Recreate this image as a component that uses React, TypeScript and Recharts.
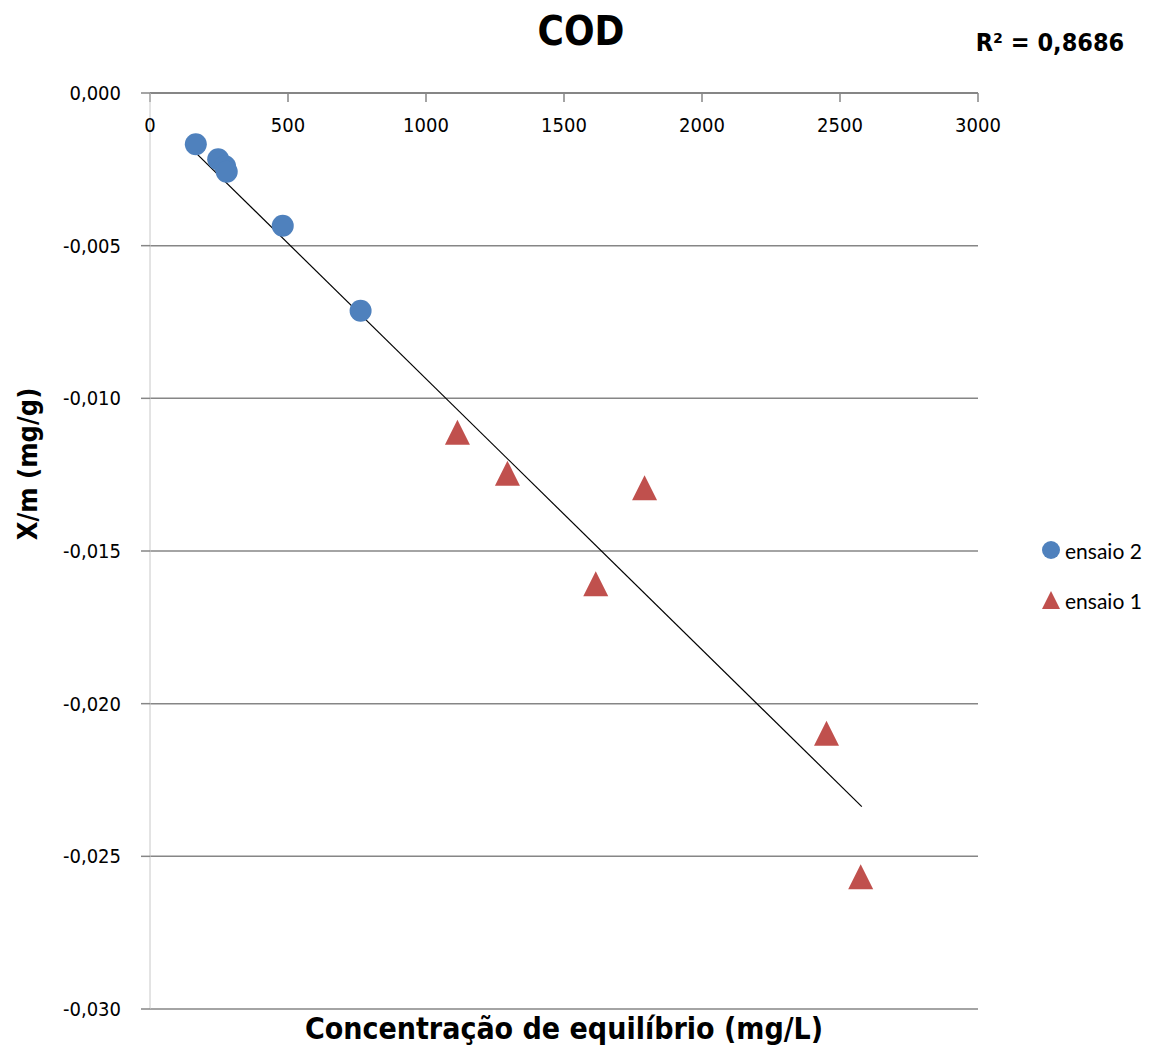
import React from 'react';
import {
  ScatterChart,
  Scatter,
  XAxis,
  YAxis,
  CartesianGrid,
  Legend,
} from 'recharts';

// ensaio 2 (blue circles)
const ensaio2X = [166, 247, 272, 278, 481, 763];
const ensaio2Y = [-0.00168, -0.00217, -0.0024, -0.00258, -0.00435, -0.00713];

// ensaio 1 (red triangles)
const ensaio1X = [1114, 1295, 1615, 1792, 2451, 2575];
const ensaio1Y = [-0.01111, -0.01245, -0.01607, -0.01293, -0.02097, -0.02567];

// linear trendline ends, as drawn
const trendX = [166, 2579];
const trendY = [-0.00196, -0.02337];

const xTicks = [0, 500, 1000, 1500, 2000, 2500, 3000];
const yTicks = [0, -0.005, -0.01, -0.015, -0.02, -0.025, -0.03];

const ensaio2 = ensaio2X.map((x, i) => ({ x, y: ensaio2Y[i] }));
const ensaio1 = ensaio1X.map((x, i) => ({ x, y: ensaio1Y[i] }));
const trend = trendX.map((x, i) => ({ x, y: trendY[i] }));

const BLUE = '#4f81bd';
const RED = '#c0504d';
const narrow = '"Liberation Sans Narrow", "DejaVu Sans Condensed", "Liberation Sans", sans-serif';

const Circle = (props: any) => <circle cx={props.cx} cy={props.cy} r={11} fill={BLUE} />;

const Triangle = (props: any) => {
  const { cx, cy } = props;
  const h = 12.5;
  return <polygon points={`${cx},${cy - h} ${cx + h},${cy + h} ${cx - h},${cy + h}`} fill={RED} />;
};

const NoDot = () => <g />;

const LegendBox = () => (
  <div style={{ width: 122, fontFamily: 'Lato, "Open Sans", sans-serif', fontSize: 21, color: '#000' }}>
    <div style={{ display: 'flex', alignItems: 'center', height: 50 }}>
      <svg width={22} height={22} style={{ marginRight: 3 }}>
        <circle cx={11} cy={11} r={9} fill={BLUE} />
      </svg>
      ensaio 2
    </div>
    <div style={{ display: 'flex', alignItems: 'center', height: 50 }}>
      <svg width={22} height={22} style={{ marginRight: 3 }}>
        <polygon points="11,2 20,20 2,20" fill={RED} />
      </svg>
      ensaio 1
    </div>
  </div>
);

const fmtY = (v: number) => v.toFixed(3).replace('.', ',');

export default function App() {
  return (
    <div style={{ position: 'absolute', left: 0, top: 0, width: 1162, height: 1050, background: '#fff' }}>
      <ScatterChart
        width={1162}
        height={1050}
        margin={{ top: 93, right: 62, bottom: 41, left: 0 }}
      >
        <CartesianGrid vertical={false} stroke="#868686" strokeWidth={1.5} />
        <XAxis
          type="number"
          dataKey="x"
          orientation="top"
          mirror
          domain={[0, 3000]}
          ticks={xTicks}
          allowDataOverflow
          axisLine={{ stroke: '#868686', strokeWidth: 2 }}
          tickLine={{ stroke: '#868686', strokeWidth: 1.5 }}
          tickSize={9}
          tickMargin={16}
          tick={{ fill: '#000', fontSize: 20, fontFamily: narrow }}
        />
        <YAxis
          type="number"
          dataKey="y"
          width={150}
          domain={[-0.03, 0]}
          ticks={yTicks}
          allowDataOverflow
          tickFormatter={fmtY}
          axisLine={{ stroke: '#c8c8c8', strokeWidth: 1 }}
          tickLine={{ stroke: '#868686', strokeWidth: 1.5 }}
          tickSize={9}
          tickMargin={20}
          tick={{ fill: '#000', fontSize: 20, fontFamily: narrow }}
        />
        <Legend
          layout="vertical"
          align="right"
          verticalAlign="top"
          wrapperStyle={{ right: 0, top: 525, width: 122 }}
          content={<LegendBox />}
        />
        <Scatter
          name="trend"
          data={trend}
          line={{ stroke: '#000', strokeWidth: 1.2 }}
          shape={NoDot}
          legendType="none"
          isAnimationActive={false}
        />
        <Scatter name="ensaio 2" data={ensaio2} shape={Circle} isAnimationActive={false} />
        <Scatter name="ensaio 1" data={ensaio1} shape={Triangle} isAnimationActive={false} />
      </ScatterChart>
      <div
        style={{
          position: 'absolute', left: 481, top: 8, width: 200, textAlign: 'center',
          fontFamily: narrow, fontWeight: 'bold', fontSize: 40, color: '#000',
        }}
      >
        COD
      </div>
      <div
        style={{
          position: 'absolute', left: 960, top: 28, width: 180, textAlign: 'center',
          fontFamily: narrow, fontWeight: 'bold', fontSize: 25, color: '#000',
        }}
      >
        R² = 0,8686
      </div>
      <div
        style={{
          position: 'absolute', left: 214, top: 1011, width: 700, textAlign: 'center',
          fontFamily: narrow, fontWeight: 'bold', fontSize: 30, color: '#000',
        }}
      >
        Concentração de equilíbrio (mg/L)
      </div>
      <div
        style={{
          position: 'absolute', left: 27, top: 464, width: 300, textAlign: 'center',
          transform: 'translate(-50%, -50%) rotate(-90deg)',
          fontFamily: narrow, fontWeight: 'bold', fontSize: 27, color: '#000',
        }}
      >
        X/m (mg/g)
      </div>
    </div>
  );
}
